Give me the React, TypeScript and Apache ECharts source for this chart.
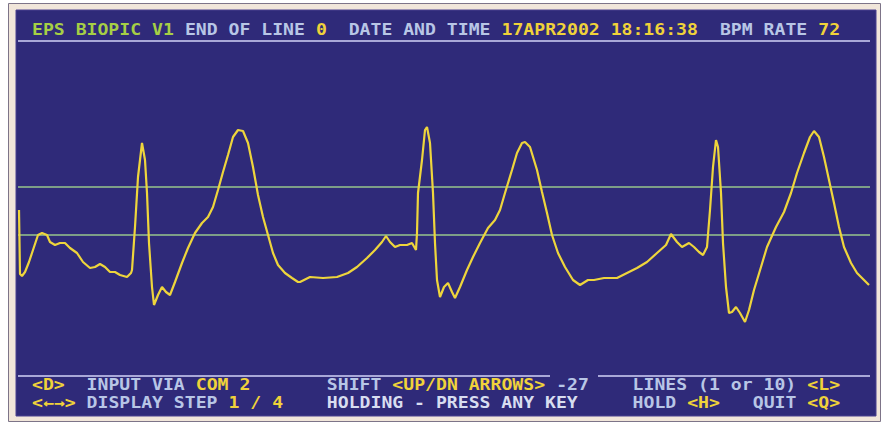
import React, { useEffect, useRef } from "react";
import * as echarts from "echarts";

// ECG trace: [sample index, amplitude (ADC counts)]
const ecgTrace: [number, number][] = [
  [1, 120], [2, 56], [4, 54], [7, 58], [11, 68], [15, 80], [20, 95], [24, 97], [29, 95], [32, 88],
  [37, 85], [42, 87], [47, 87], [52, 82], [59, 77], [65, 68], [72, 62], [77, 63], [82, 66], [87, 63],
  [92, 58], [97, 58], [102, 55], [109, 53], [113, 57], [114, 60], [117, 103], [120, 153], [124, 187],
  [127, 170], [129, 137], [131, 87], [134, 43], [136, 25], [140, 35], [144, 43], [148, 38], [152, 35],
  [157, 48], [164, 67], [170, 82], [177, 97], [184, 107], [190, 113], [195, 123], [200, 140], [205, 158],
  [210, 175], [215, 193], [220, 200], [225, 199], [230, 187], [235, 163], [240, 135], [245, 113],
  [250, 95], [255, 77], [260, 65], [267, 57], [274, 52], [280, 48], [282, 48], [292, 53], [305, 52],
  [319, 53], [330, 57], [339, 63], [349, 72], [357, 80], [364, 88], [368, 94], [372, 88], [377, 83],
  [382, 85], [389, 85], [394, 87], [398, 80], [399, 97], [400, 137], [404, 170], [407, 200], [409, 203],
  [412, 187], [415, 137], [417, 87], [419, 50], [422, 33], [426, 43], [430, 47], [434, 38], [437, 32],
  [442, 43], [449, 60], [455, 73], [462, 87], [470, 102], [477, 110], [482, 120], [487, 137], [494, 160],
  [499, 177], [504, 187], [507, 188], [512, 183], [519, 160], [524, 138], [529, 117], [534, 95],
  [540, 77], [547, 63], [555, 50], [562, 45], [570, 50], [576, 50], [586, 52], [599, 52], [609, 57],
  [619, 62], [629, 68], [639, 77], [648, 85], [653, 96], [659, 88], [664, 83], [671, 87], [676, 83],
  [681, 78], [685, 75], [689, 83], [692, 120], [695, 163], [698, 190], [700, 183], [703, 137], [705, 87],
  [708, 43], [711, 17], [714, 18], [718, 23], [722, 17], [727, 8], [731, 20], [736, 40], [743, 63],
  [749, 83], [758, 103], [766, 118], [773, 137], [779, 157], [786, 177], [792, 193], [796, 199],
  [801, 193], [806, 173], [811, 150], [816, 127], [821, 103], [826, 83], [833, 67], [839, 57],
  [846, 50], [851, 45],
];

// threshold levels (ADC counts)
const thresholds = [143, 95];

// screen text segments: [column, text, colour key]
const headerRow: [number, string, string][] = [
  [2, "EPS BIOPIC V1", "green"],
  [16, "END OF LINE", "light"],
  [28, "0", "yellow"],
  [31, "DATE AND TIME", "light"],
  [45, "17APR2002 18:16:38", "yellow"],
  [65, "BPM RATE", "light"],
  [74, "72", "yellow"],
];
const footerRow1: [number, string, string][] = [
  [2, "<D>", "yellow"],
  [7, "INPUT VIA", "light"],
  [17, "COM 2", "yellow"],
  [29, "SHIFT", "light"],
  [35, "<UP/DN ARROWS>", "yellow"],
  [50, "-27", "light"],
  [57, "LINES (1 or 10)", "light"],
  [73, "<L>", "yellow"],
];
const footerRow2: [number, string, string][] = [
  [2, "<←→>", "yellow"],
  [7, "DISPLAY STEP", "light"],
  [20, "1 / 4", "yellow"],
  [29, "HOLDING - PRESS ANY KEY", "white"],
  [57, "HOLD", "light"],
  [62, "<H>", "yellow"],
  [68, "QUIT", "light"],
  [73, "<Q>", "yellow"],
];

const COLORS: Record<string, string> = {
  green: "#a6cf45",
  light: "#b8c6e6",
  yellow: "#f0d23a",
  white: "#d8ddf0",
};

const PITCH = 10.92;
const FONT_SIZE = 15;
const colX = (c: number) => 10.16 + c * PITCH;

function rowTexts(row: [number, string, string][], y: number) {
  return row.map(([c, text, key]) => ({
    type: "text",
    x: colX(c),
    y,
    scaleX: PITCH / (FONT_SIZE * 0.602),
    silent: true,
    z: 10,
    style: {
      text,
      x: 0,
      y: 0,
      fill: COLORS[key],
      font: `bold ${FONT_SIZE}px "DejaVu Sans Mono", monospace`,
      align: "left",
      verticalAlign: "middle",
    },
  }));
}

export default function App() {
  const ref = useRef<HTMLDivElement>(null);

  useEffect(() => {
    if (!ref.current) return;
    const chart = echarts.init(ref.current, undefined, { renderer: "svg" });
    chart.setOption({
      animation: false,
      backgroundColor: "#ffffff",
      grid: { left: 18, top: 30, width: 852, height: 300 },
      xAxis: { type: "value", min: 0, max: 852, show: false },
      yAxis: { type: "value", min: 0, max: 300, show: false },
      graphic: [
        {
          type: "rect",
          z: -10,
          silent: true,
          shape: { x: 8.5, y: 3.5, width: 872, height: 418 },
          style: { fill: "#f1e6da", stroke: "#7d7488", lineWidth: 1 },
        },
        {
          type: "rect",
          z: -9,
          silent: true,
          shape: { x: 16, y: 10, width: 860, height: 406 },
          style: { fill: "#2f2a79", stroke: "#4a4090", lineWidth: 1 },
        },
        {
          type: "line",
          z: 5,
          silent: true,
          shape: { x1: 18, y1: 41, x2: 870, y2: 41 },
          style: { stroke: "#a9a8d8", lineWidth: 2 },
        },
        {
          type: "line",
          z: 5,
          silent: true,
          shape: { x1: 18, y1: 376, x2: 550, y2: 376 },
          style: { stroke: "#a9a8d8", lineWidth: 2 },
        },
        {
          type: "line",
          z: 5,
          silent: true,
          shape: { x1: 598, y1: 376, x2: 870, y2: 376 },
          style: { stroke: "#a9a8d8", lineWidth: 2 },
        },
        ...rowTexts(headerRow, 30),
        ...rowTexts(footerRow1, 385),
        ...rowTexts(footerRow2, 403),
      ],
      series: [
        {
          type: "line",
          data: ecgTrace,
          showSymbol: false,
          symbol: "none",
          smooth: false,
          z: 3,
          lineStyle: { color: "#eed53c", width: 2.2 },
          markLine: {
            silent: true,
            symbol: "none",
            label: { show: false },
            lineStyle: { color: "#98c68c", width: 1.5, type: "solid" },
            data: thresholds.map((v) => ({ yAxis: v })),
            z: 1,
          },
        },
      ],
    });
    return () => chart.dispose();
  }, []);

  return (
    <div
      ref={ref}
      style={{ position: "fixed", left: 0, top: 0, width: 884, height: 424 }}
    />
  );
}
